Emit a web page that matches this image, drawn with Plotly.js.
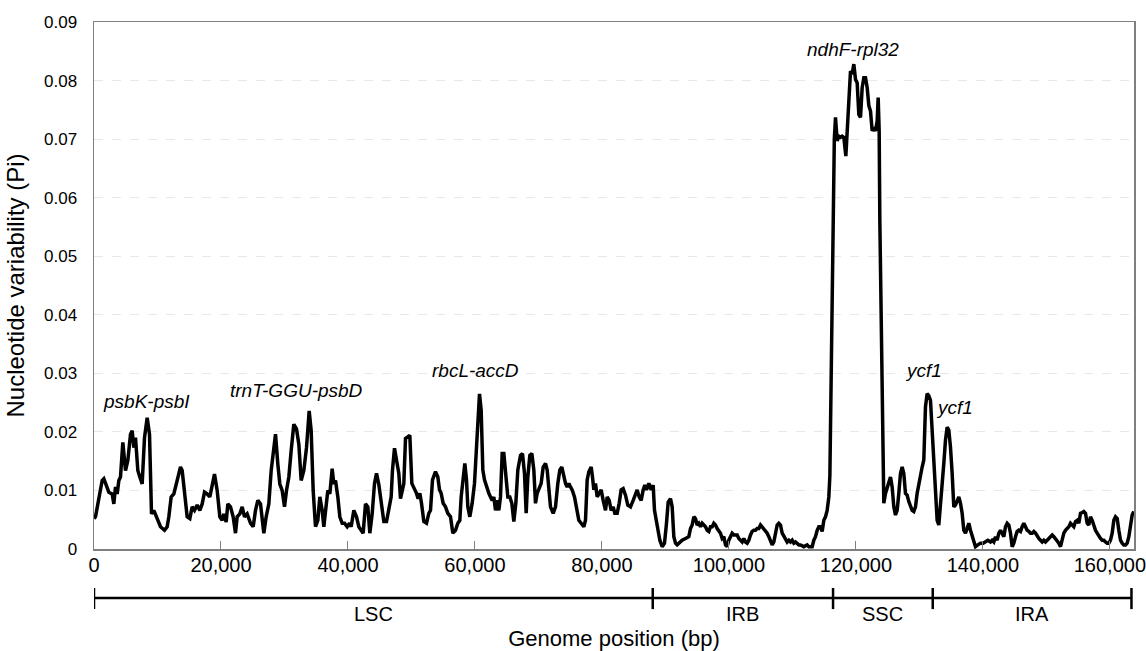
<!DOCTYPE html>
<html>
<head>
<meta charset="utf-8">
<script src="https://cdn.plot.ly/plotly-3.0.1.min.js"></script>
<style>
  html, body { margin: 0; padding: 0; background: #ffffff; }
  #chart { width: 1146px; height: 651px; }
</style>
</head>
<body>
<div id="chart"></div>
<script>
// Sliding-window genome position (bp)
const positionBp = [
  0, 236, 1286, 1549, 1969, 2336, 2861, 3124, 3386, 3649, 3911, 4174, 4541, 4961, 5329, 5749, 6011, 6274, 6536, 6904,
  7219, 7586, 7954, 8374, 8741, 9056, 9424, 9844, 10474, 11104, 11524, 11786, 12154, 12574, 13099, 13624, 13886, 14254, 14674, 15094,
  15461, 15829, 16249, 16669, 17036, 17404, 17824, 18244, 18611, 18979, 19399, 19819, 20186, 20449, 20816, 21079, 21499, 21919, 22286, 22549,
  22969, 23336, 23704, 24124, 24649, 25069, 25436, 25804, 26224, 26486, 26749, 27116, 27536, 27904, 28219, 28586, 28954, 29269, 29636, 30004,
  30319, 30686, 31054, 31474, 31894, 32261, 32629, 33049, 33469, 33889, 34204, 34519, 34886, 35254, 35569, 35936, 36199, 36566, 36829, 37144,
  37511, 37774, 38036, 38404, 38719, 39086, 39454, 39874, 40241, 40504, 40924, 41344, 41711, 42079, 42394, 42761, 43129, 43444, 43811, 44179,
  44494, 44861, 45229, 45649, 46069, 46436, 46804, 47014, 47329, 47644, 48011, 48274, 48536, 48799, 49061, 49429, 49744, 50059, 50374, 50794,
  51056, 51319, 51581, 51949, 52369, 52736, 52999, 53314, 53786, 54154, 54416, 54679, 54994, 55361, 55729, 56149, 56516, 56936, 57304, 57619,
  57829, 58144, 58406, 58669, 58879, 59194, 59561, 59929, 60244, 60506, 60716, 60979, 61241, 61504, 61819, 62186, 62449, 62711, 62974, 63236,
  63499, 63761, 64024, 64286, 64549, 64916, 65179, 65494, 65809, 66124, 66439, 66754, 67174, 67489, 67804, 68066, 68329, 68644, 68959, 69274,
  69536, 69799, 70061, 70429, 70744, 71111, 71374, 71636, 71899, 72319, 72686, 73054, 73369, 73684, 73999, 74261, 74524, 74786, 75049, 75311,
  75679, 75994, 76361, 76729, 77149, 77411, 77674, 77936, 78304, 78514, 78724, 78986, 79249, 79564, 79879, 80194, 80561, 80824, 81139, 81454,
  81769, 82031, 82399, 82714, 83029, 83344, 83711, 84079, 84499, 84919, 85286, 85549, 85864, 86179, 86494, 86756, 87019, 87386, 87754, 88069,
  88279, 88594, 88856, 89119, 89486, 89854, 90169, 90431, 90799, 91061, 91324, 91586, 91849, 92269, 92636, 93161, 93686, 93949, 94211, 94474,
  94736, 94999, 95261, 95524, 95786, 96049, 96311, 96574, 96836, 97099, 97361, 97624, 97886, 98149, 98411, 98674, 98936, 99199, 99461, 99724,
  99986, 100249, 100511, 100774, 101036, 101299, 101561, 101824, 102086, 102349, 102611, 102874, 103136, 103399, 103661, 103924, 104186, 104449, 104711, 104974,
  105236, 105499, 105761, 106024, 106286, 106549, 106811, 107074, 107336, 107599, 107861, 108124, 108386, 108649, 108911, 109174, 109436, 109699, 109961, 110224,
  110486, 110749, 111011, 111274, 111799, 112324, 112586, 112849, 113111, 113374, 113636, 113899, 114161, 114424, 114686, 114949, 115211, 115474, 115736, 115900,
  116050, 116200, 116400, 116600, 116786, 117049, 117311, 117574, 117836, 118099, 118414, 118624, 118886, 119149, 119411, 119674, 119936, 120199, 120461, 120724,
  120986, 121249, 121511, 121774, 122036, 122299, 122561, 122824, 123086, 123349, 123506, 123664, 123769, 123950, 124133, 124290, 124395, 124658, 124920, 125445,
  125708, 125970, 126233, 126495, 126758, 127020, 127283, 127545, 127808, 128070, 128333, 128595, 128858, 129120, 129383, 129645, 129908, 130170, 130433, 130695,
  130958, 131220, 131483, 131745, 132008, 132270, 132533, 132795, 133058, 133320, 133583, 133845, 134108, 134370, 134633, 134895, 135158, 135420, 135683, 135945,
  136208, 136470, 136733, 136995, 137258, 137520, 137783, 138045, 138308, 138570, 138833, 139204, 139624, 140044, 140411, 140779, 141199, 141461, 141724, 141986,
  142249, 142511, 142774, 143036, 143299, 143561, 143824, 144086, 144349, 144611, 144874, 145136, 145399, 145661, 145924, 146186, 146449, 146711, 146974, 147236,
  147499, 147761, 148024, 148286, 148549, 148811, 149074, 149336, 149599, 149861, 150124, 150386, 150649, 150911, 151174, 151436, 151699, 151961, 152224, 152486,
  152749, 153011, 153274, 153536, 153799, 154061, 154324, 154586, 154849, 155111, 155374, 155636, 155899, 156161, 156424, 156686, 156949, 157211, 157474, 157736,
  157999, 158261, 158524, 158786, 159049, 159311, 159574, 159836, 160099, 160361, 160624, 160886, 161149, 161411, 161674, 161936, 162199, 162461, 162724, 162986,
  163249, 163511, 163774
];

// Nucleotide diversity (Pi) for each window
const piValues = [
  0.0052, 0.0055, 0.0117, 0.0120, 0.0108, 0.0097, 0.0094, 0.0077, 0.0106, 0.0094, 0.0117, 0.0123, 0.0182, 0.0134, 0.0151, 0.0196, 0.0202, 0.0173, 0.0190, 0.0134,
  0.0123, 0.0111, 0.0190, 0.0224, 0.0196, 0.0060, 0.0066, 0.0055, 0.0038, 0.0032, 0.0038, 0.0055, 0.0089, 0.0094, 0.0117, 0.0140, 0.0134, 0.0100, 0.0055, 0.0052,
  0.0072, 0.0066, 0.0075, 0.0066, 0.0077, 0.0097, 0.0094, 0.0089, 0.0111, 0.0128, 0.0100, 0.0055, 0.0049, 0.0060, 0.0046, 0.0077, 0.0072, 0.0055, 0.0027, 0.0055,
  0.0060, 0.0072, 0.0055, 0.0060, 0.0044, 0.0038, 0.0066, 0.0083, 0.0077, 0.0044, 0.0027, 0.0055, 0.0077, 0.0134, 0.0168, 0.0196, 0.0145, 0.0111, 0.0100, 0.0072,
  0.0100, 0.0123, 0.0168, 0.0213, 0.0205, 0.0179, 0.0117, 0.0134, 0.0173, 0.0236, 0.0202, 0.0100, 0.0038, 0.0049, 0.0089, 0.0066, 0.0038, 0.0077, 0.0100, 0.0094,
  0.0137, 0.0111, 0.0117, 0.0089, 0.0055, 0.0044, 0.0044, 0.0038, 0.0044, 0.0038, 0.0066, 0.0055, 0.0038, 0.0032, 0.0027, 0.0077, 0.0072, 0.0027, 0.0060, 0.0112,
  0.0129, 0.0110, 0.0083, 0.0047, 0.0047, 0.0066, 0.0089, 0.0135, 0.0172, 0.0152, 0.0129, 0.0086, 0.0101, 0.0112, 0.0189, 0.0191, 0.0194, 0.0112, 0.0106, 0.0095,
  0.0086, 0.0095, 0.0078, 0.0047, 0.0044, 0.0061, 0.0066, 0.0118, 0.0132, 0.0123, 0.0101, 0.0095, 0.0078, 0.0072, 0.0061, 0.0055, 0.0027, 0.0032, 0.0044, 0.0049,
  0.0089, 0.0129, 0.0146, 0.0118, 0.0072, 0.0055, 0.0078, 0.0112, 0.0169, 0.0231, 0.0265, 0.0237, 0.0135, 0.0118, 0.0106, 0.0095, 0.0089, 0.0083, 0.0089, 0.0066,
  0.0083, 0.0066, 0.0089, 0.0163, 0.0163, 0.0123, 0.0089, 0.0089, 0.0078, 0.0047, 0.0078, 0.0135, 0.0160, 0.0163, 0.0129, 0.0061, 0.0123, 0.0160, 0.0163, 0.0135,
  0.0078, 0.0095, 0.0101, 0.0112, 0.0140, 0.0146, 0.0135, 0.0101, 0.0072, 0.0061, 0.0072, 0.0112, 0.0135, 0.0140, 0.0123, 0.0112, 0.0106, 0.0112, 0.0106, 0.0101,
  0.0089, 0.0072, 0.0049, 0.0044, 0.0038, 0.0049, 0.0118, 0.0132, 0.0140, 0.0123, 0.0101, 0.0112, 0.0089, 0.0095, 0.0101, 0.0083, 0.0066, 0.0089, 0.0083, 0.0066,
  0.0072, 0.0061, 0.0061, 0.0078, 0.0101, 0.0103, 0.0092, 0.0075, 0.0072, 0.0083, 0.0095, 0.0101, 0.0089, 0.0083, 0.0101, 0.0109, 0.0101, 0.0112, 0.0101, 0.0109,
  0.0066, 0.0044, 0.0032, 0.0015, 0.0004, 0.0010, 0.0044, 0.0080, 0.0086, 0.0072, 0.0021, 0.0010, 0.0007, 0.0012, 0.0015, 0.0018, 0.0021, 0.0035, 0.0041, 0.0055,
  0.0052, 0.0041, 0.0044, 0.0038, 0.0044, 0.0041, 0.0038, 0.0032, 0.0030, 0.0038, 0.0038, 0.0044, 0.0041, 0.0035, 0.0030, 0.0027, 0.0018, 0.0021, 0.0007, 0.0004,
  0.0015, 0.0021, 0.0027, 0.0024, 0.0024, 0.0024, 0.0018, 0.0015, 0.0012, 0.0018, 0.0012, 0.0010, 0.0015, 0.0024, 0.0030, 0.0032, 0.0032, 0.0035, 0.0035, 0.0041,
  0.0038, 0.0035, 0.0030, 0.0027, 0.0021, 0.0015, 0.0007, 0.0012, 0.0027, 0.0041, 0.0044, 0.0041, 0.0027, 0.0021, 0.0015, 0.0012, 0.0015, 0.0012, 0.0015, 0.0010,
  0.0012, 0.0010, 0.0007, 0.0007, 0.0004, 0.0007, 0.0004, 0.0004, 0.0004, 0.0015, 0.0021, 0.0032, 0.0038, 0.0038, 0.0030, 0.0049, 0.0055, 0.0066, 0.0089, 0.0125,
  0.0250, 0.0450, 0.0600, 0.0700, 0.0737, 0.0697, 0.0705, 0.0703, 0.0705, 0.0703, 0.0671, 0.0714, 0.0759, 0.0816, 0.0811, 0.0828, 0.0802, 0.0796, 0.0742, 0.0737,
  0.0788, 0.0805, 0.0805, 0.0788, 0.0757, 0.0748, 0.0714, 0.0720, 0.0714, 0.0731, 0.0771, 0.0714, 0.0561, 0.0400, 0.0254, 0.0083, 0.0078, 0.0095, 0.0106, 0.0123,
  0.0106, 0.0072, 0.0058, 0.0066, 0.0095, 0.0129, 0.0140, 0.0129, 0.0095, 0.0092, 0.0081, 0.0072, 0.0066, 0.0064, 0.0072, 0.0095, 0.0112, 0.0129, 0.0140, 0.0152,
  0.0243, 0.0265, 0.0262, 0.0254, 0.0208, 0.0152, 0.0095, 0.0049, 0.0041, 0.0072, 0.0112, 0.0146, 0.0186, 0.0208, 0.0203, 0.0174, 0.0129, 0.0072, 0.0075, 0.0083,
  0.0089, 0.0078, 0.0061, 0.0032, 0.0027, 0.0035, 0.0044, 0.0032, 0.0021, 0.0010, 0.0004, 0.0007, 0.0010, 0.0010, 0.0012, 0.0015, 0.0012, 0.0015, 0.0012, 0.0021,
  0.0015, 0.0027, 0.0032, 0.0027, 0.0021, 0.0038, 0.0044, 0.0041, 0.0027, 0.0004, 0.0010, 0.0021, 0.0030, 0.0032, 0.0030, 0.0038, 0.0044, 0.0038, 0.0032, 0.0030,
  0.0027, 0.0027, 0.0030, 0.0027, 0.0021, 0.0018, 0.0015, 0.0012, 0.0015, 0.0012, 0.0015, 0.0018, 0.0021, 0.0024, 0.0021, 0.0018, 0.0015, 0.0010, 0.0004, 0.0015,
  0.0027, 0.0032, 0.0035, 0.0038, 0.0044, 0.0041, 0.0038, 0.0047, 0.0049, 0.0044, 0.0061, 0.0062, 0.0064, 0.0061, 0.0044, 0.0041, 0.0055, 0.0049, 0.0038, 0.0032,
  0.0027, 0.0021, 0.0018, 0.0015, 0.0015, 0.0012, 0.0010, 0.0010, 0.0015, 0.0027, 0.0049, 0.0055, 0.0052, 0.0032, 0.0015, 0.0010, 0.0007, 0.0007, 0.0010, 0.0021,
  0.0044, 0.0058, 0.0064
];

// Genome regions (bp boundaries) and names
const regionBounds = [0, 88000, 116400, 132100, 163400];
const regionNames = ['LSC', 'IRB', 'SSC', 'IRA'];

// Hypervariable region labels
const geneLabels = ['psbK-psbI', 'trnT-GGU-psbD', 'rbcL-accD', 'ndhF-rpl32', 'ycf1', 'ycf1'];
const geneLabelBp = [8340, 31970, 60090, 119570, 130600, 135530];
const geneLabelPi = [0.0252, 0.0271, 0.0305, 0.0853, 0.0305, 0.0242];

// Axis tick labels
const yTickVals = [0, 0.01, 0.02, 0.03, 0.04, 0.05, 0.06, 0.07, 0.08, 0.09];
const yTickText = ['0', '0.01', '0.02', '0.03', '0.04', '0.05', '0.06', '0.07', '0.08', '0.09'];

const FONT = 'Arial, "Liberation Sans", sans-serif';

// ---- layout config (positions in paper units) ----
const bracketY = -0.093;
const bracketTickTop = -0.074;
const bracketTickBottom = -0.114;
const regionLabelY = -0.124;

const shapes = [];
shapes.push({
  type: 'line', xref: 'x', yref: 'paper',
  x0: regionBounds[0], x1: regionBounds[regionBounds.length - 1],
  y0: bracketY, y1: bracketY,
  line: { color: '#000000', width: 2.5 }
});
regionBounds.forEach(b => {
  shapes.push({
    type: 'line', xref: 'x', yref: 'paper',
    x0: b, x1: b, y0: bracketTickTop, y1: bracketTickBottom,
    line: { color: '#000000', width: 2.5 }
  });
});

const annotations = [];
regionNames.forEach((name, i) => {
  annotations.push({
    xref: 'x', yref: 'paper',
    x: (regionBounds[i] + regionBounds[i + 1]) / 2, y: regionLabelY,
    text: name, showarrow: false, xanchor: 'center', yanchor: 'middle',
    font: { family: FONT, size: 20, color: '#000000' }
  });
});
geneLabels.forEach((g, i) => {
  annotations.push({
    xref: 'x', yref: 'y',
    x: geneLabelBp[i], y: geneLabelPi[i],
    text: '<i>' + g + '</i>', showarrow: false, xanchor: 'center', yanchor: 'middle',
    font: { family: FONT, size: 19, color: '#000000' }
  });
});

const trace = {
  x: positionBp, y: piValues,
  type: 'scatter', mode: 'lines',
  line: { color: '#000000', width: 3.5, shape: 'linear' },
  hoverinfo: 'x+y'
};

const layout = {
  width: 1146, height: 651,
  margin: { l: 94, r: 12, t: 22, b: 102 },
  paper_bgcolor: '#ffffff', plot_bgcolor: '#ffffff',
  font: { family: FONT, color: '#000000' },
  showlegend: false,
  xaxis: {
    range: [0, 163800],
    tick0: 0, dtick: 20000, tickformat: ',d',
    ticks: 'inside', ticklen: 8, tickwidth: 1, tickcolor: '#7f7f7f',
    tickfont: { family: FONT, size: 20, color: '#000000' },
    ticklabelstandoff: -3, ticklabeloverflow: 'allow',
    showgrid: false, zeroline: false,
    showline: true, linecolor: '#7f7f7f', linewidth: 1.5, mirror: true,
    title: { text: 'Genome position (bp)', font: { family: FONT, size: 22, color: '#000000' }, standoff: 56 },
    automargin: false
  },
  yaxis: {
    range: [0, 0.09],
    tickvals: yTickVals, ticktext: yTickText,
    ticks: '', ticklabelstandoff: 12,
    tickfont: { family: FONT, size: 17, color: '#000000' },
    showgrid: true, gridcolor: '#e8e8e8', gridwidth: 1, griddash: 'dash',
    zeroline: false,
    showline: true, linecolor: '#7f7f7f', linewidth: 1.5, mirror: true,
    title: { text: 'Nucleotide variability (Pi)', font: { family: FONT, size: 24, color: '#000000' }, standoff: 12 },
    automargin: false
  },
  shapes: shapes,
  annotations: annotations
};

Plotly.newPlot('chart', [trace], layout, { displayModeBar: false, staticPlot: true });
</script>
</body>
</html>
